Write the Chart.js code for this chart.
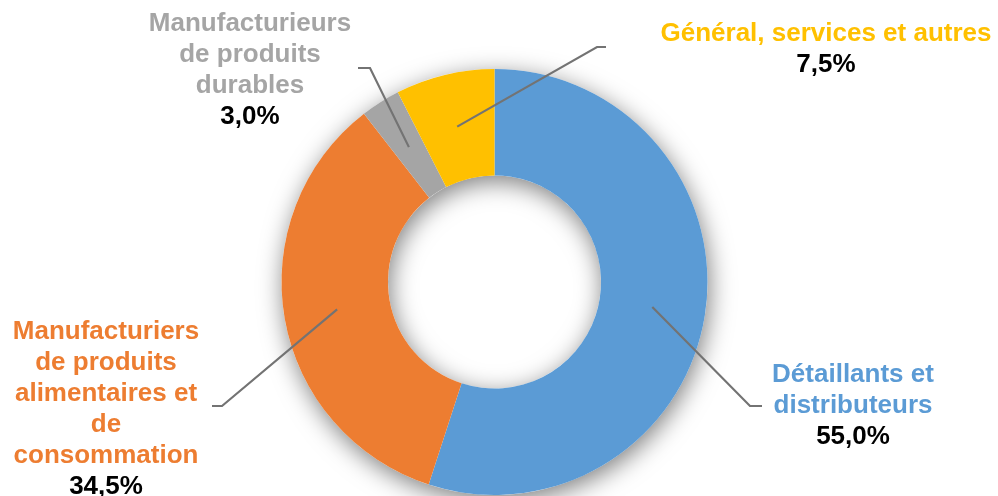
<!DOCTYPE html>
<html>
<head>
<meta charset="utf-8">
<script src="https://cdn.jsdelivr.net/npm/chart.js@4.4.0/dist/chart.umd.min.js"></script>
<style>
  html, body { margin: 0; padding: 0; background: #fff; }
  #wrap { width: 998px; height: 496px; }
</style>
</head>
<body>
<div id="wrap"><canvas id="donut" width="998" height="496"></canvas></div>
<script>
// data
const categories = [
  ['Détaillants et', 'distributeurs'],
  ['Manufacturiers', 'de produits', 'alimentaires et', 'de', 'consommation'],
  ['Manufacturieurs', 'de produits', 'durables'],
  ['Général, services et autres']
];
const shares = [55.0, 34.5, 3.0, 7.5];
const sliceColors = ['#5B9BD5', '#ED7D31', '#A5A5A5', '#FFC000'];

// where each label sits (first line centre) and its leader line elbow / end
const labelLayout = [
  { x: 853, y: 375, elbow: [750, 406], end: [762, 406] },
  { x: 106, y: 332, elbow: [222, 406], end: [212, 406] },
  { x: 250, y: 24, elbow: [370, 68], end: [358, 68] },
  { x: 826, y: 34, elbow: [597, 47], end: [606, 47] }
];

const fontSize = 26;
const lineHeight = 31;
const fontFamily = "'Liberation Sans', Arial, Helvetica, sans-serif";

function fmtPct(v) {
  return v.toFixed(1).replace('.', ',') + '%';
}

const ringShadow = {
  id: 'ringShadow',
  beforeDatasetsDraw(chart) {
    const arc = chart.getDatasetMeta(0).data[0];
    if (!arc) return;
    const c = chart.ctx;
    c.save();
    c.beginPath();
    c.arc(arc.x, arc.y, arc.outerRadius, 0, Math.PI * 2);
    c.arc(arc.x, arc.y, arc.innerRadius, 0, Math.PI * 2, true);
    c.shadowColor = 'rgba(0,0,0,0.5)';
    c.shadowBlur = 24;
    c.shadowOffsetX = 2;
    c.shadowOffsetY = 6;
    c.fillStyle = '#fff';
    c.fill('evenodd');
    c.restore();
  }
};

const calloutLabels = {
  id: 'calloutLabels',
  afterDatasetsDraw(chart) {
    const c = chart.ctx;
    const meta = chart.getDatasetMeta(0);
    meta.data.forEach(function (arc, i) {
      const lay = labelLayout[i];
      const p = arc.tooltipPosition();
      // leader line
      c.save();
      c.strokeStyle = '#737373';
      c.lineWidth = 2.2;
      c.beginPath();
      c.moveTo(p.x, p.y);
      c.lineTo(lay.elbow[0], lay.elbow[1]);
      c.lineTo(lay.end[0], lay.end[1]);
      c.stroke();
      c.restore();

      // text
      c.save();
      c.font = 'bold ' + fontSize + 'px ' + fontFamily;
      c.textAlign = 'center';
      c.textBaseline = 'middle';
      const lines = categories[i];
      c.fillStyle = sliceColors[i];
      lines.forEach(function (t, k) {
        c.fillText(t, lay.x, lay.y + k * lineHeight);
      });
      c.fillStyle = '#000';
      c.fillText(fmtPct(shares[i]), lay.x, lay.y + lines.length * lineHeight);
      c.restore();
    });
  }
};

const ctx = document.getElementById('donut').getContext('2d');
const chart = new Chart(ctx, {
  type: 'doughnut',
  data: {
    labels: categories.map(l => l.join(' ')),
    datasets: [{
      data: shares,
      backgroundColor: sliceColors,
      borderWidth: 0
    }]
  },
  options: {
    responsive: false,
    animation: false,
    cutout: '50%',
    layout: {
      padding: { top: 69, bottom: 1, left: 281, right: 290 }
    },
    plugins: {
      legend: { display: false },
      tooltip: { enabled: false }
    }
  },
  plugins: [ringShadow, calloutLabels]
});
</script>
</body>
</html>
